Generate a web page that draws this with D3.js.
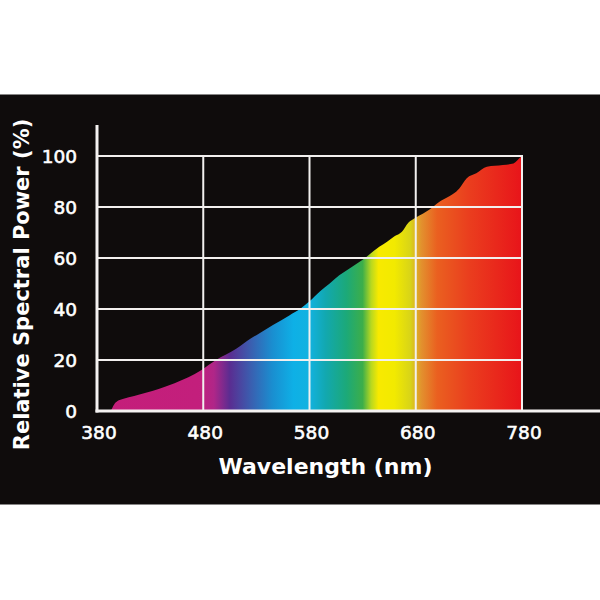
<!DOCTYPE html>
<html><head><meta charset="utf-8">
<script src="https://cdn.jsdelivr.net/npm/d3@7"></script>
<style>html,body{margin:0;padding:0;background:#fff;}svg{display:block;}</style>
</head><body>
<script>
const wavelengths = [393, 396, 399, 405, 410, 420, 432, 444, 453, 466, 478, 492, 511, 525, 533, 546, 561, 571, 580, 590, 599, 608, 618, 630, 646, 653, 660, 667, 673, 679, 687, 693, 702, 709, 721, 728, 737, 747, 762, 772, 779, 780];
const powers = [0, 2.5, 3.8, 4.8, 5.4, 6.5, 7.8, 9.5, 10.9, 13.2, 16, 20, 24.4, 28.5, 30.5, 33.8, 37.5, 40, 43, 47, 50, 53.2, 56, 59.3, 64.5, 66.4, 68.5, 70.3, 73.8, 75.6, 77.5, 79, 82, 83.6, 87.3, 91.3, 93.2, 95.8, 96.5, 97.1, 99.7, 100];
const xTicks = [380, 480, 580, 680, 780];
const yTicks = [0, 20, 40, 60, 80, 100];
const spectrumNm = [380, 476, 490, 505, 525, 545, 565, 580, 595, 615, 630, 638, 645, 660, 675, 685, 700, 730, 780];
const spectrumColors = ["#c41e7a", "#c31f7c", "#b02688", "#5a2d91", "#3a5fb0", "#1a8ed0", "#0eb0e6", "#12b2e0", "#12a8b0", "#1ca978", "#3cae4a", "#b8d820", "#f8ea00", "#f2ea00", "#d8d418", "#e2922e", "#ea6020", "#ea3e1e", "#e8141a"];

const data = wavelengths.map((w, i) => ({w, v: powers[i]}));

const svg = d3.select("body").append("svg").attr("width", 600).attr("height", 600);
svg.append("rect").attr("x", 0).attr("y", 94.5).attr("width", 600).attr("height", 410).attr("fill", "#0f0c0c");

const x = d3.scaleLinear().domain([380, 780]).range([97, 522]);
const y = d3.scaleLinear().domain([0, 100]).range([411, 156]);

const defs = svg.append("defs");
const grad = defs.append("linearGradient").attr("id", "spec")
  .attr("gradientUnits", "userSpaceOnUse")
  .attr("x1", x(380)).attr("x2", x(780)).attr("y1", 0).attr("y2", 0);
spectrumNm.forEach((nm, i) => {
  grad.append("stop").attr("offset", (nm - 380) / 400).attr("stop-color", spectrumColors[i]);
});

const area = d3.area().x(d => x(d.w)).y0(y(0)).y1(d => y(d.v)).curve(d3.curveMonotoneX);
svg.append("path").datum(data).attr("d", area).attr("fill", "url(#spec)");

// grid
const grid = svg.append("g").attr("stroke", "#f2f0ef").attr("stroke-width", 2);
yTicks.filter(t => t > 0).forEach(t => {
  grid.append("line").attr("x1", x(380)).attr("x2", x(780)).attr("y1", y(t)).attr("y2", y(t));
});
xTicks.filter(t => t > 380).forEach(t => {
  grid.append("line").attr("x1", x(t)).attr("x2", x(t)).attr("y1", y(100) - 1).attr("y2", y(0));
});

// axes lines
svg.append("line").attr("x1", x(380)).attr("x2", x(380)).attr("y1", 125).attr("y2", y(0) + 1.5)
  .attr("stroke", "#f4f2f1").attr("stroke-width", 3);
svg.append("line").attr("x1", x(380) - 1.5).attr("x2", 600).attr("y1", y(0)).attr("y2", y(0))
  .attr("stroke", "#f4f2f1").attr("stroke-width", 3);

// tick labels
const font = "'DejaVu Sans', sans-serif";
svg.append("g").selectAll("text").data(yTicks).join("text")
  .attr("x", 77).attr("y", d => y(d)).attr("dy", "0.36em")
  .attr("text-anchor", "end").attr("fill", "#fff").attr("stroke", "#fff").attr("stroke-width", 0.6)
  .style("font-family", font).style("font-size", "18.5px")
  .text(d => d);
svg.append("g").selectAll("text").data(xTicks).join("text")
  .attr("x", d => x(d) + 2).attr("y", 438.5)
  .attr("text-anchor", "middle").attr("fill", "#fff").attr("stroke", "#fff").attr("stroke-width", 0.6)
  .style("font-family", font).style("font-size", "18.5px")
  .text(d => d);

// titles
svg.append("text").attr("x", 325.5).attr("y", 474).attr("text-anchor", "middle")
  .attr("fill", "#fff").style("font-family", font).style("font-weight", "bold").style("font-size", "22px")
  .text("Wavelength (nm)");
svg.append("text").attr("transform", "translate(29,284.5) rotate(-90)").attr("text-anchor", "middle")
  .attr("fill", "#fff").style("font-family", font).style("font-weight", "bold").style("font-size", "21px")
  .text("Relative Spectral Power (%)");
</script>
</body></html>
